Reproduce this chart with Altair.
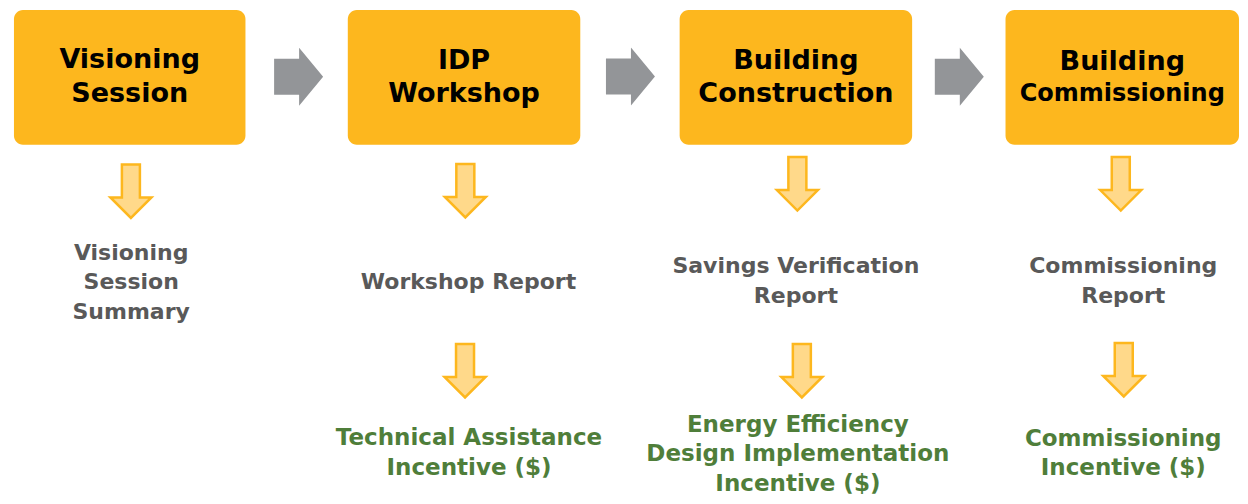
import altair as alt
import pandas as pd

# ---- content ----
stage_titles = [["Visioning", "Session"], ["IDP", "Workshop"],
                ["Building", "Construction"], ["Building", "Commissioning"]]
deliverables = [["Visioning", "Session", "Summary"], ["Workshop Report"],
                ["Savings Verification", "Report"], ["Commissioning", "Report"]]
incentives = [[], ["Technical Assistance", "Incentive ($)"],
              ["Energy Efficiency", "Design Implementation", "Incentive ($)"],
              ["Commissioning", "Incentive ($)"]]

# ---- layout (reference pixel space) ----
box_left = [14, 350, 684, 1012]
box_right = [247, 584, 918, 1247]
box_top, box_bottom = 10, 147
title_y = [[59, 93.5], [60, 94], [60, 94], [61, 94]]
title_size = [[27, 27], [27, 27], [27, 27], [27, 24]]
deliv_x = [132, 471.5, 801, 1130.5]
deliv_y = [[255, 285, 315], [285], [268.5, 299], [268.5, 299]]
inc_x = [None, 472, 803, 1130.5]
inc_y = [[], [444, 474], [430, 460, 490.5], [444.5, 474.5]]
right_arrows = [(301, 78), (635, 77.5), (966, 78)]
down_arrows = [(131.7, 200.5), (468.3, 200), (802.5, 193), (1128, 193),
               (468, 383), (807, 383), (1131, 382)]

ORANGE = "#FDB71E"
GRAY_ARROW = "#939598"
GRAY_TEXT = "#595959"
GREEN = "#4F7E3A"

boxes = pd.DataFrame({"x": box_left, "x2": box_right,
                      "y": [box_top] * 4, "y2": [box_bottom] * 4})

rows = []
for i, lines in enumerate(stage_titles):
    cx = (box_left[i] + box_right[i]) / 2
    for j, t in enumerate(lines):
        rows.append({"x": cx, "y": title_y[i][j], "t": t,
                     "fs": title_size[i][j], "c": "#000000"})
for i, lines in enumerate(deliverables):
    for j, t in enumerate(lines):
        rows.append({"x": deliv_x[i], "y": deliv_y[i][j], "t": t,
                     "fs": 22, "c": GRAY_TEXT})
for i, lines in enumerate(incentives):
    for j, t in enumerate(lines):
        rows.append({"x": inc_x[i], "y": inc_y[i][j], "t": t,
                     "fs": 23, "c": GREEN})
texts = pd.DataFrame(rows)

rarr = pd.DataFrame({"x": [p[0] for p in right_arrows], "y": [p[1] for p in right_arrows]})
darr = pd.DataFrame({"x": [p[0] for p in down_arrows], "y": [p[1] for p in down_arrows]})

xs = alt.Scale(domain=[8, 1248], range=[0, 1232], zero=False, nice=False)
ys = alt.Scale(domain=[8, 504], range=[0, 488], zero=False, nice=False)

box_layer = alt.Chart(boxes).mark_rect(color=ORANGE, cornerRadius=9).encode(
    x=alt.X("x:Q", scale=xs, axis=None), x2="x2:Q",
    y=alt.Y("y:Q", scale=ys, axis=None), y2="y2:Q")

RIGHT_PATH = "M -0.5 -0.36 L 0 -0.36 L 0 -0.58 L 0.48 0 L 0 0.58 L 0 0.36 L -0.5 0.36 Z"
DOWN_PATH = "M -0.18 -0.66 L 0.18 -0.66 L 0.18 0 L 0.41 0 L 0 0.41 L -0.41 0 L -0.18 0 Z"

rarr_layer = alt.Chart(rarr).mark_point(
    shape=RIGHT_PATH, size=10000, filled=True, fill=GRAY_ARROW, opacity=1,
    strokeWidth=0).encode(
    x=alt.X("x:Q", scale=xs, axis=None), y=alt.Y("y:Q", scale=ys, axis=None))

darr_layer = alt.Chart(darr).mark_point(
    shape=DOWN_PATH, size=10000, filled=False, fill="#FFD98A", fillOpacity=1,
    stroke=ORANGE, strokeWidth=2.5, opacity=1).encode(
    x=alt.X("x:Q", scale=xs, axis=None), y=alt.Y("y:Q", scale=ys, axis=None))

text_layer = alt.Chart(texts).mark_text(
    font="DejaVu Sans", fontWeight="bold", align="center", baseline="middle",
    dy=1.5).encode(
    x=alt.X("x:Q", scale=xs, axis=None), y=alt.Y("y:Q", scale=ys, axis=None),
    text="t:N",
    size=alt.Size("fs:Q", scale=None, legend=None),
    color=alt.Color("c:N", scale=None, legend=None))

chart = alt.layer(box_layer, rarr_layer, darr_layer, text_layer).properties(
    width=1232, height=488,
    autosize=alt.AutoSizeParams(type="none"), padding=0,
).configure(background="white", view=alt.ViewConfig(stroke=None))

chart.save("out.html", embed_options={"renderer": "svg", "actions": False})
